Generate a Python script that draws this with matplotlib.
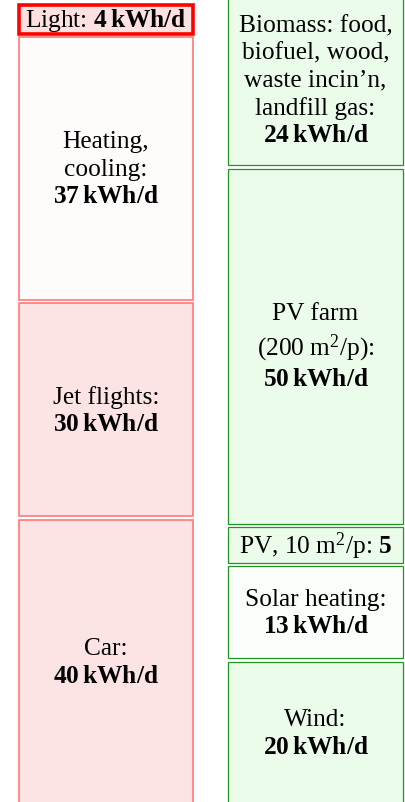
import matplotlib.pyplot as plt
from matplotlib.patches import Rectangle

plt.rcParams['font.family'] = ['Liberation Serif', 'DejaVu Serif']
plt.rcParams['mathtext.fontset'] = 'custom'
plt.rcParams['mathtext.rm'] = 'Liberation Serif'
plt.rcParams['mathtext.bf'] = 'Liberation Serif:bold'
plt.rcParams['mathtext.it'] = 'Liberation Serif:italic'

# consumption (left stack, bottom to top)
use_labels = ["Car:", "Jet flights:", "Heating,\ncooling:", "Light:"]
use_values = [40, 30, 37, 4]
use_units = ["kWh/d", "kWh/d", "kWh/d", "kWh/d"]

# production (right stack, bottom to top)
make_labels = ["Wind:", "Solar heating:", "PV, 10 m$^2$/p:", "PV farm\n(200 m$^2$/p):",
               "Biomass: food,\nbiofuel, wood,\nwaste incin\u2019n,\nlandfill gas:"]
make_values = [20, 13, 5, 50, 24]
make_units = ["kWh/d", "kWh/d", "", "kWh/d", "kWh/d"]

# styles
use_fill = ["#fde4e4", "#fde4e4", "#fdfcfb", "#fde0e0"]
use_edge = ["#ff7878", "#ff7878", "#ff7878", "#ff0000"]
use_lw = [1.2, 1.2, 1.2, 2.6]
make_fill = ["#ebfceb", "#fbfffb", "#ebfceb", "#ebfceb", "#ebfceb"]
make_edge = "#1f961f"

px_per_unit = 7.1
gap = 0.5
base_px = 805  # pixel row of the zero line (just below the picture)

fig = plt.figure(figsize=(4.06, 8.03), dpi=100)
ax = fig.add_axes([0, 0, 1, 1])
ax.set_xlim(0, 406)
ax.set_ylim((base_px - 803) / px_per_unit, base_px / px_per_unit)
ax.axis('off')


def value_text(v, unit):
    if unit:
        return "$\\mathbf{%d\\:%s}$" % (v, unit)
    return "$\\mathbf{%d}$" % v


def draw_stack(x0, x1, labels, values, units, fills, edges, lws):
    y = 0
    for lab, v, u, fc, ec, lw in zip(labels, values, units, fills, edges, lws):
        ax.add_patch(Rectangle((x0, y), x1 - x0, v, facecolor=fc, edgecolor=ec, lw=lw))
        if v < 6:
            txt = lab + " " + value_text(v, u)
        else:
            txt = lab + "\n" + value_text(v, u)
        ax.text((x0 + x1) / 2, y + v / 2, txt, ha='center', va='center',
                fontsize=18.3, linespacing=1.3, multialignment='center')
        y += v + gap


draw_stack(19, 193, use_labels, use_values, use_units, use_fill, use_edge, use_lw)
draw_stack(228, 403, make_labels, make_values, make_units, make_fill,
           [make_edge] * len(make_values), [0.9] * len(make_values))

fig.savefig("out.png", dpi=100)
